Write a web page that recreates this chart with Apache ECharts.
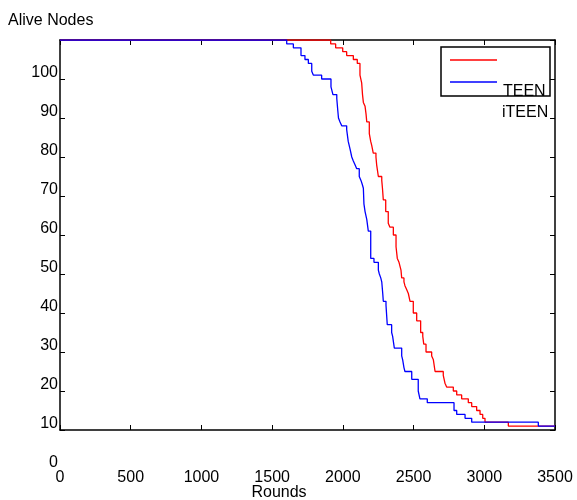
<!DOCTYPE html>
<html>
<head>
<meta charset="utf-8">
<script src="https://cdn.jsdelivr.net/npm/echarts@6/dist/echarts.min.js"></script>
<style>
  html, body { margin: 0; padding: 0; background: #fff; }
  #chart { width: 577px; height: 500px; }
</style>
</head>
<body>
<div id="chart"></div>
<script>
// rounds at which the alive count steps down, and the count after the step
var teenRounds = [0, 1914, 1949, 1999, 2027, 2074, 2102, 2121, 2133, 2139, 2145, 2157, 2164, 2169, 2187, 2197, 2204, 2215, 2234, 2239, 2251, 2275, 2280, 2286,
    2303, 2321, 2333, 2357, 2376, 2385, 2397, 2411, 2416, 2432, 2439, 2451, 2463, 2475, 2498, 2522, 2550, 2565, 2572, 2588, 2628, 2640, 2652,
    2710, 2722, 2734, 2781, 2805, 2840, 2887, 2911, 2946, 2970, 2989, 3005, 3170, 3500];
var teenNodes = [110, 109, 108, 107, 106, 105, 104, 101, 99, 96, 94, 93, 91, 89, 86, 84, 83, 81, 80, 78, 75, 74, 72, 69,
    66, 63, 62, 60, 57, 54, 53, 51, 49, 48, 47, 46, 45, 43, 40, 38, 35, 34, 32, 30, 29, 28, 25,
    24, 22, 21, 20, 19, 18, 17, 16, 15, 14, 13, 12, 11, 11];

var iteenRounds = [0, 1603, 1650, 1704, 1732, 1756, 1780, 1791, 1850, 1916, 1930, 1957, 1964, 1969, 1980, 1992, 2027, 2038, 2051, 2063, 2074, 2086, 2098,
    2116, 2128, 2137, 2145, 2149, 2157, 2169, 2180, 2197, 2220, 2251, 2258, 2268, 2275, 2282, 2286, 2305, 2314, 2345, 2352, 2364,
    2416, 2423, 2432, 2439, 2487, 2533, 2545, 2597, 2786, 2805, 2864, 2911, 3382, 3500];
var iteenNodes = [110, 109, 108, 106, 105, 104, 102, 101, 100, 98, 96, 95, 92, 90, 89, 88, 87, 84, 82, 80, 79, 78, 77,
    75, 74, 73, 72, 68, 66, 64, 61, 54, 53, 51, 50, 49, 48, 45, 43, 42, 37, 35, 34, 31,
    29, 28, 26, 25, 23, 20, 18, 17, 15, 14, 13, 12, 11, 11];

var xTicks = { min: 0, max: 3500, step: 500 };

function zip(xs, ys) {
    var out = [];
    for (var i = 0; i < xs.length; i++) out.push([xs[i], ys[i]]);
    return out;
}

var font = '"Liberation Sans", Arial, sans-serif';
var chart = echarts.init(document.getElementById('chart'));

// box axes (drawn from 10 to 110) sit in grid 1, the labelled scale in grid 0
var boxX = {
    type: 'value', gridIndex: 1, min: xTicks.min, max: xTicks.max, interval: xTicks.step,
    axisLine: { show: true, onZero: false, lineStyle: { color: '#000', width: 1.5 } },
    axisTick: { show: true, inside: true, length: 5, lineStyle: { color: '#000', width: 1 } },
    axisLabel: { show: false }, splitLine: { show: false }
};
var boxY = {
    type: 'value', gridIndex: 1, min: 10, max: 110, interval: 10,
    axisLine: { show: true, onZero: false, lineStyle: { color: '#000', width: 1.5 } },
    axisTick: { show: true, inside: true, length: 5, lineStyle: { color: '#000', width: 1 } },
    axisLabel: { show: false }, splitLine: { show: false }
};

var option = {
    animation: false,
    backgroundColor: '#fff',
    grid: [
        { left: 60, right: 22, top: 40, bottom: 31 },
        { left: 60, right: 22, top: 40, bottom: 70 }
    ],
    xAxis: [
        {
            type: 'value', gridIndex: 0, min: xTicks.min, max: xTicks.max, interval: xTicks.step,
            axisLine: { show: false }, axisTick: { show: false }, splitLine: { show: false },
            axisLabel: {
                color: '#000', fontSize: 16, fontFamily: font, margin: 1,
                formatter: function (v) { return String(v); }
            }
        },
        Object.assign({}, boxX, { position: 'bottom' }),
        Object.assign({}, boxX, { position: 'top' })
    ],
    yAxis: [
        {
            type: 'value', gridIndex: 0, min: 0, max: 110, interval: 10,
            axisLine: { show: false }, axisTick: { show: false }, splitLine: { show: false },
            axisLabel: {
                color: '#000', fontSize: 16, fontFamily: font, margin: 2,
                verticalAlign: 'bottom', lineHeight: 12,
                formatter: function (v) { return v === 110 ? '' : String(v); }
            }
        },
        Object.assign({}, boxY, { position: 'left' }),
        Object.assign({}, boxY, { position: 'right' })
    ],
    series: [
        {
            name: 'TEEN', type: 'line', step: 'end', xAxisIndex: 0, yAxisIndex: 0,
            data: zip(teenRounds, teenNodes), showSymbol: false, z: 3,
            lineStyle: { color: '#ff0000', width: 1.3 }, itemStyle: { color: '#ff0000' }
        },
        {
            name: 'iTEEN', type: 'line', step: 'end', xAxisIndex: 0, yAxisIndex: 0,
            data: zip(iteenRounds, iteenNodes), showSymbol: false, z: 4,
            lineStyle: { color: '#0000ff', width: 1.3 }, itemStyle: { color: '#0000ff' }
        }
    ],
    graphic: [
        {
            type: 'text', left: 8, top: 13,
            style: { text: 'Alive Nodes', fill: '#000', font: '16px ' + font }
        },
        {
            type: 'text', x: 279, y: 485,
            style: { text: 'Rounds', fill: '#000', font: '16px ' + font, align: 'center', textAlign: 'center', verticalAlign: 'top', textVerticalAlign: 'top' }
        },
        {
            type: 'rect', z: 10,
            shape: { x: 441, y: 47, width: 109, height: 49 },
            style: { fill: '#fff', stroke: '#000', lineWidth: 1.5 }
        },
        {
            type: 'line', z: 11,
            shape: { x1: 450, y1: 60, x2: 497, y2: 60 },
            style: { stroke: '#ff0000', lineWidth: 1.3 }
        },
        {
            type: 'line', z: 11,
            shape: { x1: 450, y1: 82, x2: 497, y2: 82 },
            style: { stroke: '#0000ff', lineWidth: 1.3 }
        },
        {
            type: 'text', z: 12, x: 503, y: 92,
            style: { text: 'TEEN', fill: '#000', font: '16px ' + font, verticalAlign: 'middle', textVerticalAlign: 'middle' }
        },
        {
            type: 'text', z: 12, x: 502, y: 113,
            style: { text: 'iTEEN', fill: '#000', font: '16px ' + font, verticalAlign: 'middle', textVerticalAlign: 'middle' }
        }
    ]
};

chart.setOption(option);
</script>
</body>
</html>
